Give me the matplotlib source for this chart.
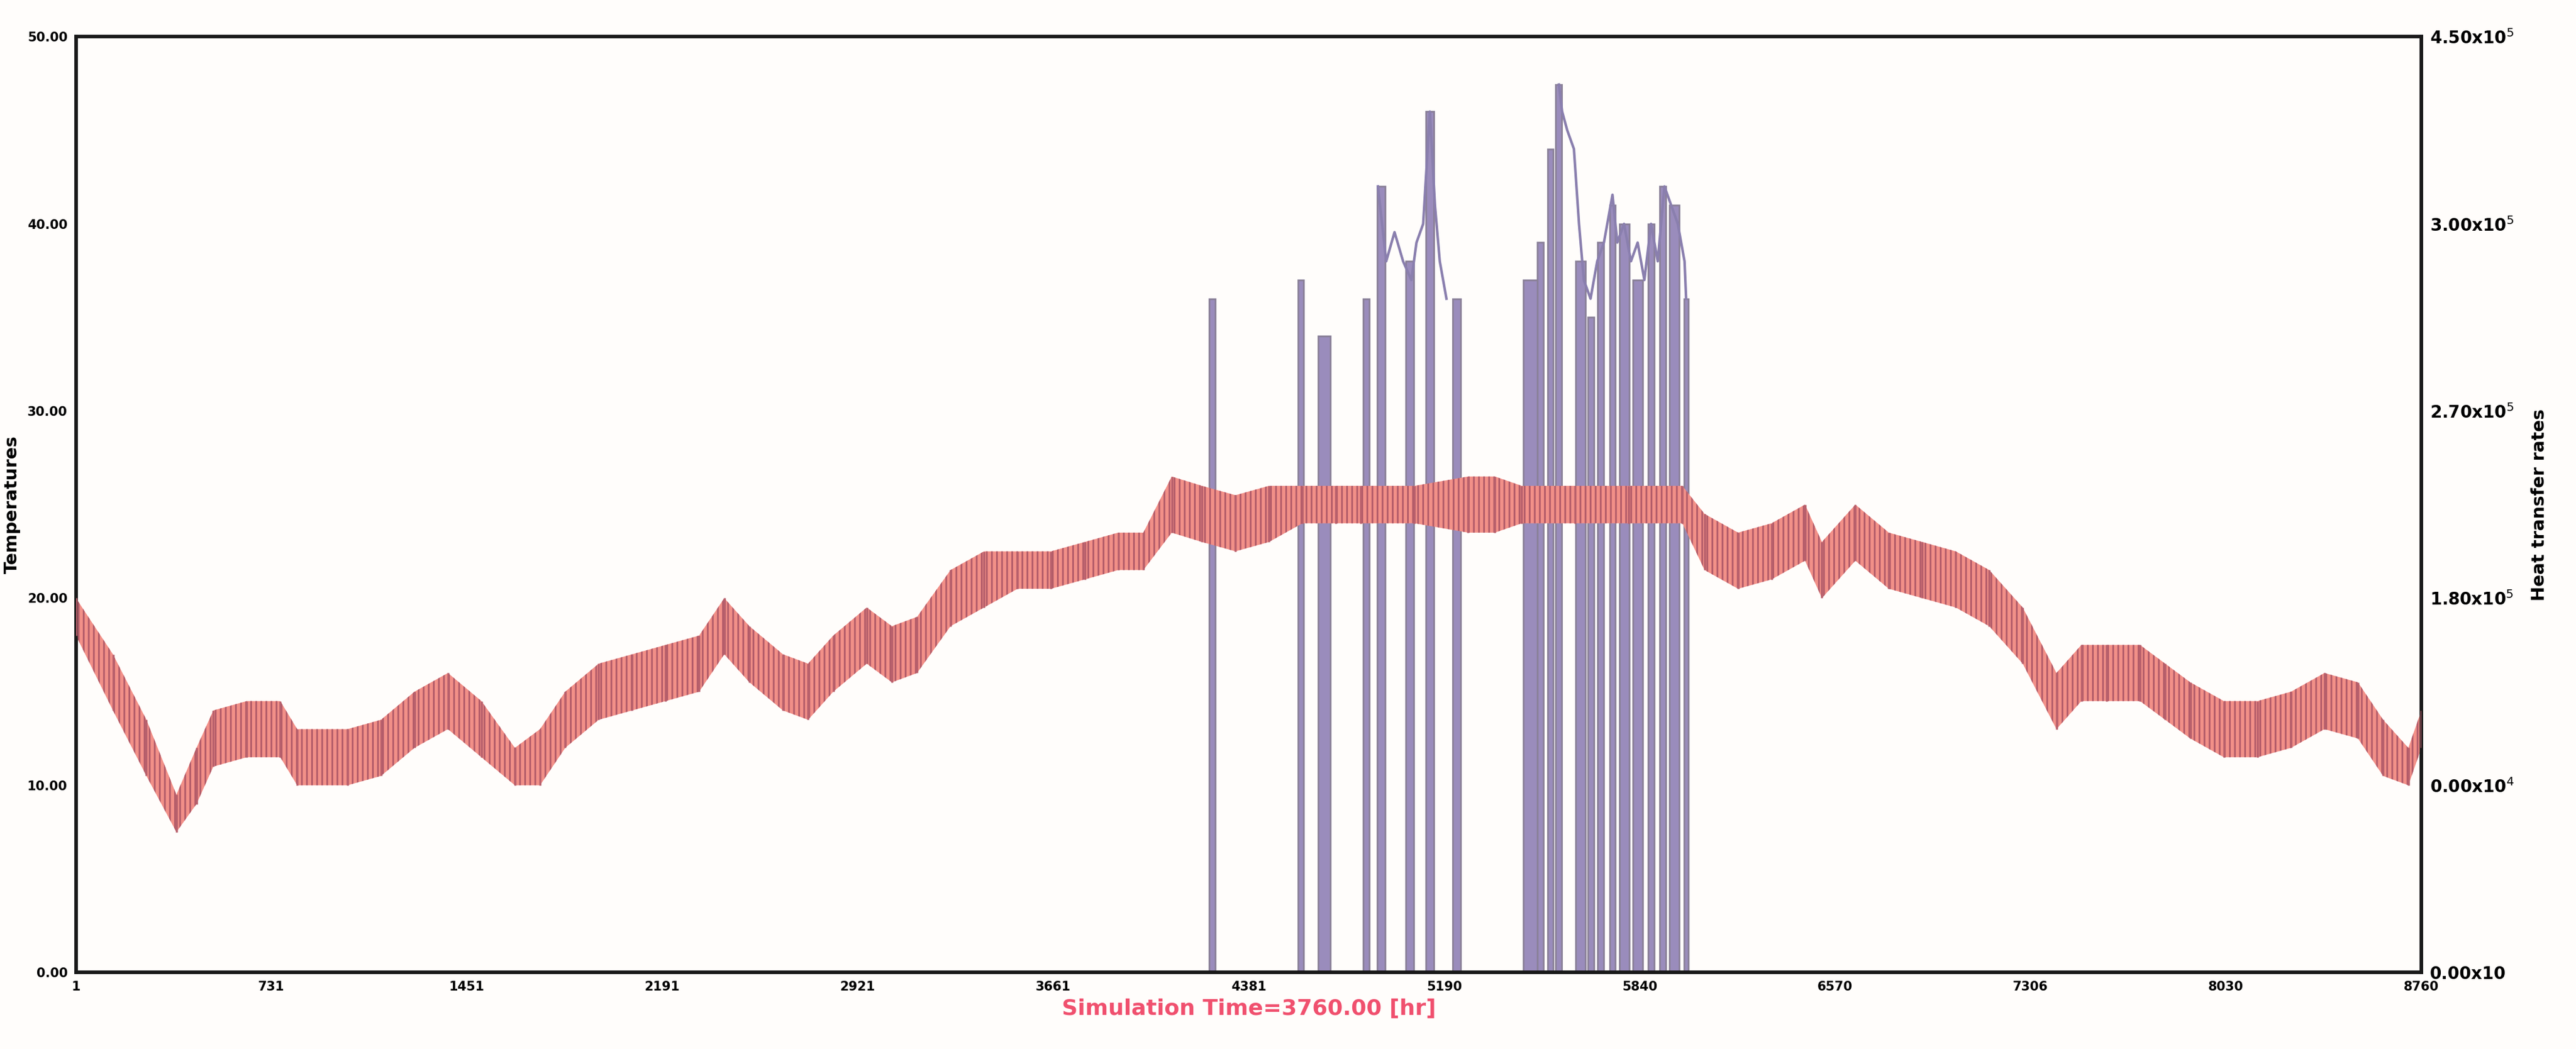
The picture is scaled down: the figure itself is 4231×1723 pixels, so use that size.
import matplotlib
matplotlib.use("Agg")
import matplotlib.pyplot as plt
import numpy as np

# ---- data ----
temp_hours = [1, 139, 264, 376, 451, 514, 639, 764, 827, 1015, 1140, 1265, 1390, 1515, 1640, 1734,
              1828, 1953, 2078, 2203, 2328, 2422, 2516, 2641, 2735, 2829, 2954, 3048, 3142, 3267,
              3392, 3517, 3642, 3768, 3893, 3987, 4093, 4206, 4331, 4456, 4581, 4706, 4800, 5000,
              5200, 5300, 5400, 5600, 5800, 6000, 6083, 6208, 6333, 6458, 6521, 6646, 6771, 6896,
              7021, 7146, 7271, 7397, 7490, 7584, 7709, 7803, 7897, 8022, 8148, 8273, 8398, 8523,
              8617, 8711, 8760]
temp_mid = [19.0, 15.5, 12.0, 8.5, 10.5, 12.5, 13.0, 13.0, 11.5, 11.5, 12.0, 13.5, 14.5, 13.0, 11.0, 11.5,
            13.5, 15.0, 15.5, 16.0, 16.5, 18.5, 17.0, 15.5, 15.0, 16.5, 18.0, 17.0, 17.5, 20.0,
            21.0, 21.5, 21.5, 22.0, 22.5, 22.5, 25.0, 24.5, 24.0, 24.5, 25.0, 25.0, 25.0, 25.0,
            25.0, 25.0, 25.0, 25.0, 25.0, 25.0, 23.0, 22.0, 22.5, 23.5, 21.5, 23.5, 22.0, 21.5,
            21.0, 20.0, 18.0, 14.5, 16.0, 16.0, 16.0, 15.0, 14.0, 13.0, 13.0, 13.5, 14.5, 14.0,
            12.0, 11.0, 13.0]
temp_swing = [1.0, 1.5, 1.5, 1.0, 1.5, 1.5, 1.5, 1.5, 1.5, 1.5, 1.5, 1.5, 1.5, 1.5, 1.0, 1.5,
              1.5, 1.5, 1.5, 1.5, 1.5, 1.5, 1.5, 1.5, 1.5, 1.5, 1.5, 1.5, 1.5, 1.5,
              1.5, 1.0, 1.0, 1.0, 1.0, 1.0, 1.5, 1.5, 1.5, 1.5, 1.0, 1.0, 1.0, 1.0,
              1.5, 1.5, 1.0, 1.0, 1.0, 1.0, 1.5, 1.5, 1.5, 1.5, 1.5, 1.5, 1.5, 1.5,
              1.5, 1.5, 1.5, 1.5, 1.5, 1.5, 1.5, 1.5, 1.5, 1.5, 1.5, 1.5, 1.5, 1.5,
              1.5, 1.0, 1.0]

heat_bar_hours = [4244, 4575, 4663, 4819, 4875, 4982, 5057, 5157, 5438, 5470, 5507, 5538, 5620,
                  5658, 5695, 5739, 5783, 5833, 5883, 5926, 5970, 6014]
heat_bar_vals = [3.24e5, 3.33e5, 3.06e5, 3.24e5, 3.78e5, 3.42e5, 4.14e5, 3.24e5, 3.33e5, 3.51e5,
                 3.96e5, 4.27e5, 3.42e5, 3.15e5, 3.51e5, 3.69e5, 3.60e5, 3.33e5, 3.60e5, 3.78e5,
                 3.69e5, 3.24e5]
heat_bar_widths = [22, 22, 45, 22, 30, 30, 30, 28, 65, 22, 22, 22, 35, 22, 22, 22, 35, 35, 22, 22, 35, 16]

heat_curve1_hours = [4863, 4894, 4925, 4957, 4988, 5007, 5032, 5057, 5076, 5094, 5119]
heat_curve1_vals = [3.78e5, 3.42e5, 3.56e5, 3.42e5, 3.33e5, 3.51e5, 3.60e5, 4.14e5, 3.69e5, 3.42e5, 3.24e5]
heat_curve2_hours = [5539, 5551, 5570, 5595, 5614, 5632, 5657, 5682, 5707, 5739, 5757, 5782, 5808,
                     5833, 5858, 5883, 5908, 5933, 5958, 5983, 6008, 6014]
heat_curve2_vals = [4.27e5, 4.14e5, 4.05e5, 3.96e5, 3.60e5, 3.33e5, 3.24e5, 3.42e5, 3.51e5, 3.74e5,
                    3.51e5, 3.60e5, 3.42e5, 3.51e5, 3.33e5, 3.60e5, 3.42e5, 3.78e5, 3.69e5, 3.60e5,
                    3.42e5, 3.24e5]

x_tick_labels = ["1", "731", "1451", "2191", "2921", "3661", "4381", "5190", "5840", "6570", "7306", "8030", "8760"]
y_left_ticks = [0, 10, 20, 30, 40, 50]
y_left_labels = ["0.00", "10.00", "20.00", "30.00", "40.00", "50.00"]
y_right_labels = ["0.00x10", r"0.00x10$^4$", r"1.80x10$^5$", r"2.70x10$^5$", r"3.00x10$^5$", r"4.50x10$^5$"]

# ---- figure ----
plt.rcParams['hatch.linewidth'] = 2.0
plt.rcParams['hatch.color'] = "#b05a68"
fig = plt.figure(figsize=(42.31, 17.23), dpi=100, facecolor="#fffdfb")
ax = fig.add_axes([0.0295, 0.073, 0.9105, 0.892])
ax2 = ax.twinx()

th = np.array(temp_hours); tm = np.array(temp_mid); ts = np.array(temp_swing)
ax.fill_between(th, tm - ts, tm + ts, facecolor="#f29088", edgecolor="#b05a68", hatch="||",
                lw=0, zorder=2)
ax.vlines(th, tm - ts, tm + ts, color="#b8606c", lw=2.5, zorder=3)

ax2.bar(heat_bar_hours, heat_bar_vals, width=heat_bar_widths, color="#9a8cbc",
        edgecolor="#8a8098", lw=2, zorder=1)
ax2.plot(heat_curve1_hours, heat_curve1_vals, color="#8a7fae", lw=3)
ax2.plot(heat_curve2_hours, heat_curve2_vals, color="#8a7fae", lw=3)
ax2.set_ylim(0, 4.5e5)
ax.set_zorder(ax2.get_zorder() + 1)
ax.patch.set_visible(False)
ax2.patch.set_facecolor("#fffdfb")

ax.set_xlim(1, 8760)
ax.set_ylim(0, 50)
ax.set_xticks(np.linspace(1, 8760, len(x_tick_labels)))
ax.set_xticklabels(x_tick_labels)
ax.set_yticks(y_left_ticks)
ax.set_yticklabels(y_left_labels)
ax2.set_yticks(np.linspace(0, 4.5e5, len(y_right_labels)))
ax2.set_yticklabels(y_right_labels)

fam = ["DejaVu Sans"]
for lab in ax.get_xticklabels() + ax.get_yticklabels():
    lab.set_family(fam); lab.set_fontweight("bold"); lab.set_fontsize(15)
for lab in ax2.get_yticklabels():
    lab.set_family(fam); lab.set_fontweight("bold"); lab.set_fontsize(20)
ax.tick_params(length=0, pad=10)
ax2.tick_params(length=0, pad=10)

for a in (ax, ax2):
    for s in a.spines.values():
        s.set_linewidth(4); s.set_color("#1a1a1a")

ax.set_ylabel("Temperatures", fontsize=21, fontweight="bold", family=fam, labelpad=8)
ax2.set_ylabel("Heat transfer rates", fontsize=21, fontweight="bold", family=fam, labelpad=20)
ax.set_xlabel("Simulation Time=3760.00 [hr]", fontsize=26, fontweight="bold", family=fam,
              color="#f0506e", labelpad=6)

fig.savefig("out.png", dpi=100, facecolor=fig.get_facecolor())
